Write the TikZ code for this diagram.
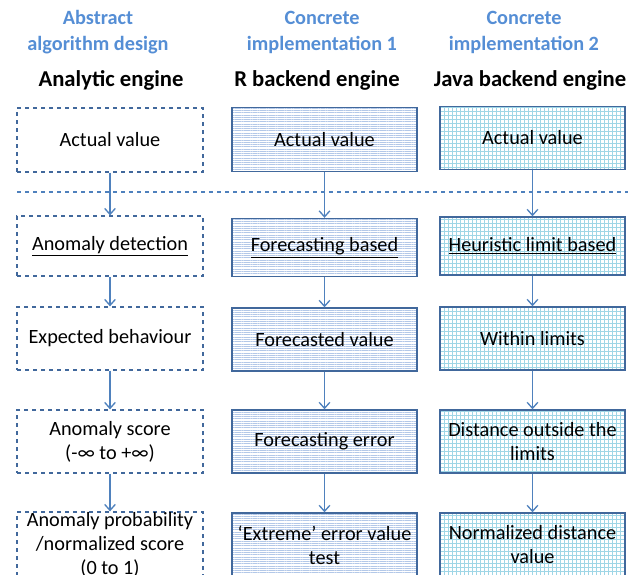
\documentclass[tikz,border=0pt]{standalone}
\usepackage{fontspec}
\setmainfont{Carlito}
\usetikzlibrary{arrows.meta,patterns.meta}
\definecolor{hdrblue}{HTML}{558ED5}
\definecolor{boxline}{HTML}{41689C}
\definecolor{arrowc}{HTML}{4F81BD}
\definecolor{hpat}{HTML}{B3C8E8}
\definecolor{gpat}{HTML}{9FD6E6}
\tikzset{
  hdr/.style={font=\fontsize{15.2}{19.5}\selectfont\bfseries, text=hdrblue, align=center},
  eng/.style={font=\fontsize{17}{21}\selectfont\bfseries, align=center},
  txt/.style={font=\fontsize{15.2}{18}\selectfont, align=center},
  absbox/.style={draw=boxline, dashed, line width=0.9pt, minimum width=186*0.75pt, minimum height=63*0.75pt, inner sep=0pt},
  rbox/.style={draw=boxline, line width=1pt, minimum width=185*0.75pt, minimum height=63*0.75pt, inner sep=0pt,
    preaction={pattern={Lines[angle=0,distance=1.7pt,line width=0.4pt]}, pattern color=hpat}},
  jbox/.style={draw=boxline, line width=1pt, minimum width=185*0.75pt, minimum height=63*0.75pt, inner sep=0pt,
    preaction={pattern={Lines[angle=0,distance=3pt,line width=0.4pt]}, pattern color=gpat},
    preaction={pattern={Lines[angle=90,distance=3pt,line width=0.4pt]}, pattern color=gpat}},
  flow/.style={draw=arrowc, line width=1pt, -{Straight Barb[length=4.5pt,width=8pt]}},
}
\begin{document}
\begin{tikzpicture}[x=0.75pt,y=-0.75pt]
\useasboundingbox (0,0) rectangle (640,575);
\begin{scope}
\clip (0,0) rectangle (640,575);
% headers
\node[hdr] (h1) at (98,32) {Abstract\\algorithm design};
\node[hdr] (h2) at (322,32) {Concrete\\implementation 1};
\node[hdr] (h3) at (524,32) {Concrete\\implementation 2};
\node[eng] (e1) at (111,80) {Analytic engine};
\node[eng] (e2) at (317,80) {R backend engine};
\node[eng] (e3) at (530,80) {Java backend engine};
% column 1
\node[absbox,txt,minimum height=64*0.75pt] (a1) at (110,140) {Actual value};
\node[absbox,txt,minimum height=60*0.75pt] (a2) at (110,246) {\underline{Anomaly detection}};
\node[absbox,txt] (a3) at (110,338.5) {Expected behaviour};
\node[absbox,txt] (a4) at (110,441.5) {Anomaly score\\(-∞ to +∞)};
\node[absbox,minimum height=64*0.75pt] (a5) at (110,544) {};
\node[txt] (a5t) at (110,545) {Anomaly probability\\/normalized score\\(0 to 1)};
% column 2
\node[rbox,txt,minimum height=64*0.75pt] (r1) at (324.5,139.5) {Actual value};
\node[rbox,txt,minimum height=58*0.75pt] (r2) at (324.5,247.5) {\underline{Forecasting based}};
\node[rbox,txt] (r3) at (324.5,339.5) {Forecasted value};
\node[rbox,txt] (r4) at (324.5,441.5) {Forecasting error};
\node[rbox,minimum height=64*0.75pt] (r5) at (324.5,545) {};
\node[txt] (r5t) at (324.5,545) {‘Extreme’ error value\\test};
% column 3
\node[jbox,txt] (j1) at (532.5,138) {Actual value};
\node[jbox,txt,minimum height=58*0.75pt] (j2) at (532.5,246) {\underline{Heuristic limit based}};
\node[jbox,txt] (j3) at (532.5,338.5) {Within limits};
\node[jbox,txt] (j4) at (532.5,441.5) {Distance outside the\\limits};
\node[jbox,minimum height=64*0.75pt] (j5) at (532.5,545) {};
\node[txt] (j5t) at (532.5,545) {Normalized distance\\value};
% separator
\coordinate (sl) at (17,192);
\coordinate (sr) at (628,192);
\draw[arrowc, dashed, line width=0.8pt] (sl) -- (sr);
% arrows
\foreach \c in {a,r,j}{
  \draw[flow] (\c1.south) -- (\c2.north);
  \draw[flow] (\c2.south) -- (\c3.north);
  \draw[flow] (\c3.south) -- (\c4.north);
  \draw[flow] (\c4.south) -- (\c5.north);
}
\end{scope}
\end{tikzpicture}
\end{document}
